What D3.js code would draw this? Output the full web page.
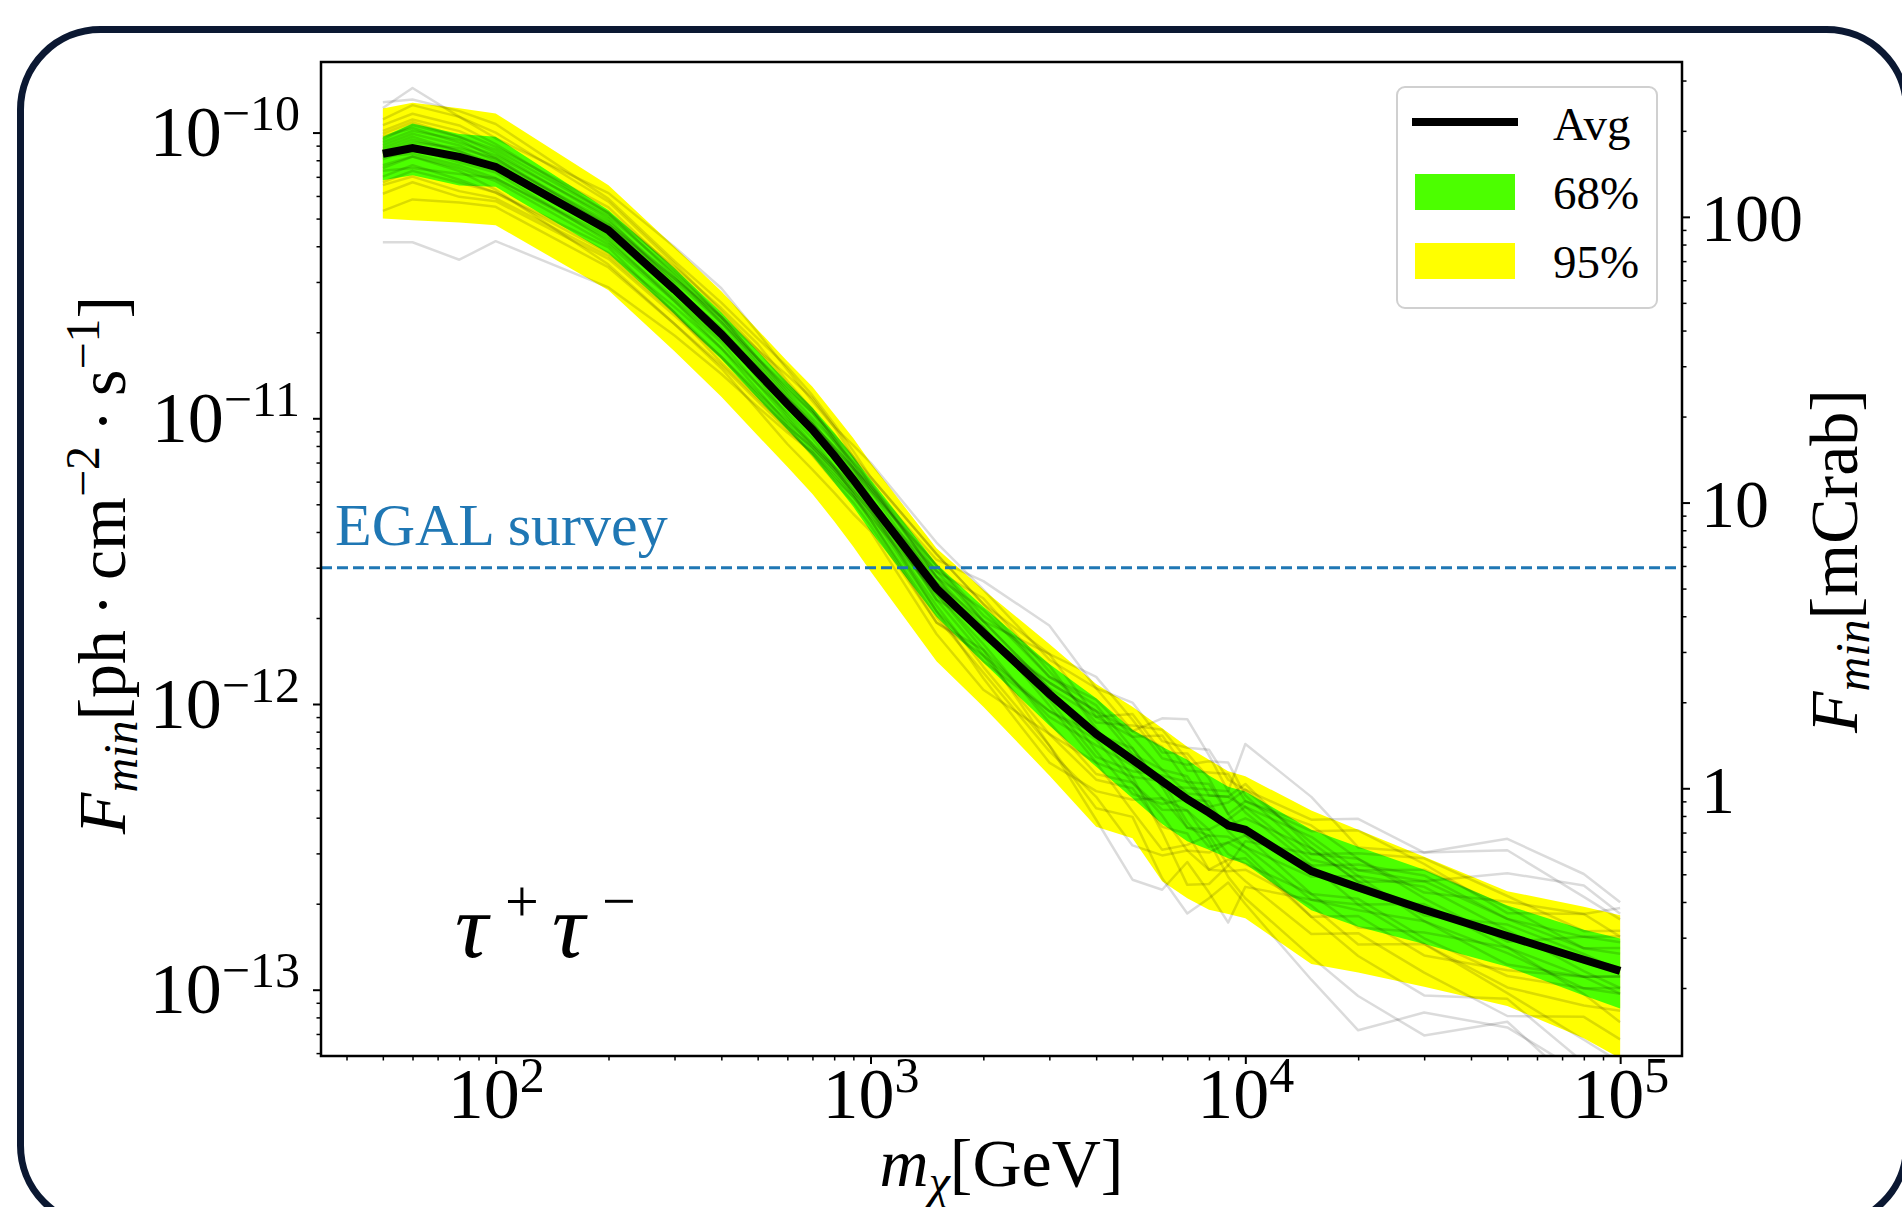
<!DOCTYPE html>
<html>
<head>
<meta charset="utf-8">
<script src="https://cdn.jsdelivr.net/npm/d3@7"></script>
<style>
  body { margin: 0; background: #fff; }
  svg text { font-family: "Liberation Serif", "Times New Roman", serif; fill: #000; }
</style>
</head>
<body>
<div id="app"></div>
<script>
// dark matter mass grid (GeV)
const massGeV = [50, 60, 80, 100, 200, 300, 400, 500, 600, 700, 800, 900, 1000, 1500, 2000,
  3000, 4000, 5000, 6000, 7000, 8000, 9000, 10000, 15000, 20000, 30000, 50000, 80000, 100000];

// log10 of F_min [ph cm^-2 s^-1]
const avgLogF = [-10.074, -10.054, -10.085, -10.120, -10.342, -10.550, -10.705, -10.840, -10.950,
  -11.040, -11.130, -11.215, -11.295, -11.595, -11.750, -11.965, -12.105, -12.195, -12.270,
  -12.333, -12.380, -12.425, -12.440, -12.585, -12.642, -12.720, -12.812, -12.895, -12.934];
const hi95LogF = [-9.916, -9.896, -9.915, -9.933, -10.184, -10.400, -10.555, -10.690, -10.800,
  -10.890, -10.985, -11.070, -11.155, -11.455, -11.600, -11.790, -11.930, -12.010, -12.085,
  -12.150, -12.195, -12.235, -12.253, -12.373, -12.440, -12.535, -12.655, -12.710, -12.739];
const hi68LogF = [-10.015, -9.968, -10.005, -10.015, -10.272, -10.475, -10.630, -10.765, -10.875,
  -10.962, -11.050, -11.135, -11.213, -11.510, -11.660, -11.860, -11.980, -12.090, -12.150,
  -12.195, -12.250, -12.290, -12.306, -12.440, -12.500, -12.580, -12.705, -12.790, -12.821];
const lo68LogF = [-10.167, -10.149, -10.185, -10.190, -10.423, -10.635, -10.793, -10.930, -11.040,
  -11.132, -11.225, -11.310, -11.395, -11.695, -11.855, -12.075, -12.220, -12.330, -12.420,
  -12.480, -12.510, -12.540, -12.560, -12.722, -12.780, -12.840, -12.920, -13.020, -13.066];
const lo95LogF = [-10.301, -10.307, -10.315, -10.324, -10.552, -10.765, -10.925, -11.060, -11.170,
  -11.265, -11.360, -11.450, -11.535, -11.850, -12.010, -12.250, -12.430, -12.470, -12.620,
  -12.680, -12.720, -12.735, -12.750, -12.910, -12.940, -12.990, -13.057, -13.170, -13.240];

// single realisations, offsets from the average in 0.01 dex
const realOffsets = [
  [-31, -33, -36, -26, -20, -16, -14, -12, -10, -8, -8, -6, -6, -10, -14, -20, -22, -30, -26, -18, -20, -12, -10, -16, -24, -30, -22, -36, -40],
  [16, 21, 14, 10, 13, 15, 16, 14, 12, 10, 10, 12, 14, 16, 15, 12, 16, 20, 14, 18, 22, 16, 14, 18, 24, 20, 30, 22, 18],
  [5, 8, 7, 6, 6, 5, 4, 3, 2, 1, 2, 3, 4, 8, 6, 10, 2, -6, -18, -30, -25, -14, -4, 6, 10, 4, -2, 8, 12],
  [-8, -6, -8, -9, -6, -8, -10, -9, -8, -6, -5, -4, -3, -6, -12, -18, -30, -42, -38, -22, -28, -34, -20, -10, -6, -12, -20, -28, -32],
  [10, 12, 11, 8, 6, 8, 9, 10, 8, 7, 6, 5, 4, 2, 0, 4, 8, 10, 12, 6, 2, 8, 14, 10, 4, -4, -10, -6, -2],
  [-2, 0, -2, -2, -4, -3, -2, -1, 0, 2, 3, 4, 6, 4, 2, -2, -8, -4, 2, 6, 10, 4, -2, -8, -14, -8, -4, -12, -18],
  [2, 4, 2, 0, 2, 3, 4, 5, 6, 6, 5, 4, 2, -4, -8, -6, 0, 4, -2, -10, -6, 2, 8, 12, 6, 14, 10, 4, 6],
  [-14, -12, -14, -12, -10, -9, -8, -7, -6, -5, -4, -3, -2, -8, -16, -24, -20, -14, -6, -4, -10, -18, -24, -30, -38, -44, -30, -46, -50],
  [7, 9, 7, 5, 4, 2, 0, -2, -4, -5, -4, -2, 0, 6, 12, 8, 4, 12, 18, 14, 6, 10, 16, 8, 2, 10, 22, 26, 20],
  [-5, -3, -5, -8, -12, -12, -11, -10, -9, -8, -7, -6, -5, -2, -4, -10, -14, -8, -12, -18, -14, -6, -8, -16, -10, -16, -12, -6, -8],
  [0, 2, 3, 3, 1, 0, -1, 0, 1, 2, 1, 0, -1, 2, 4, 2, -6, -12, -8, 0, 4, -2, -6, -2, 4, 8, 2, -4, -6],
  [12, 15, 14, 12, 10, 9, 8, 8, 7, 7, 6, 6, 5, 8, 4, 14, 20, 14, 8, 12, 18, 22, 12, 6, 12, 18, 14, 10, 14],
  [4, 6, 6, 3, 2, 4, 6, 8, 10, 11, 10, 8, 6, 10, 18, 24, 16, 10, 22, 28, 20, 12, 30, 26, 14, 20, 34, 30, 24],
  [-10, -8, -9, -9, -8, -6, -5, -4, -3, -3, -4, -5, -6, -12, -6, -18, -26, -20, -34, -40, -30, -20, -26, -38, -50, -36, -32, -40, -44],
  [-20, -18, -16, -14, -13, -12, -12, -13, -14, -14, -13, -12, -10, -16, -20, -14, -10, -18, -24, -16, -8, -14, -18, -22, -16, -22, -28, -20, -24],
  [18, 17, 16, 15, 11, 10, 11, 12, 13, 12, 11, 10, 9, 12, 10, 6, 12, 8, 16, 10, 14, 18, 10, 14, 20, 16, 8, 16, 22],
  [3, 5, 4, 2, 3, 4, 5, 4, 3, 2, 3, 4, 5, 6, 4, 2, 6, 8, 4, 2, 6, 10, 8, 4, 6, 10, 6, 8, 10],
  [-4, -3, -4, -5, -5, -4, -3, -4, -5, -6, -5, -4, -3, -2, -6, -8, -4, -2, -6, -10, -8, -4, -6, -10, -8, -4, -6, -10, -8],
  [6, 7, 5, 4, 5, 6, 6, 5, 4, 4, 5, 6, 7, 4, 8, 6, 10, 4, -2, 4, 8, 12, 6, 2, 8, 12, 6, 4, 8],
  [-6, -7, -6, -4, -3, -4, -5, -6, -7, -7, -6, -5, -4, -8, -10, -6, -2, -8, -10, -4, -6, -10, -12, -8, -4, -10, -14, -10, -6],
  [1, 3, 2, 1, 0, 1, 2, 2, 1, 0, -1, -1, 0, 4, -2, 4, 8, 2, 4, 8, 2, 0, 4, 8, 2, -2, 4, 2, 0],
  [-1, -2, -3, -4, -2, -1, 0, 1, 2, 3, 2, 1, 0, -4, 2, -4, -10, -6, 0, -8, -12, -6, -2, 2, -6, 2, -4, -6, -2],
  [8, 10, 9, 7, 8, 7, 6, 5, 5, 6, 7, 8, 9, 12, 10, 14, 6, 16, 10, 16, 12, 4, 10, 16, 10, 6, 12, 16, 12],
  [-11, -10, -12, -11, -9, -8, -8, -8, -8, -9, -9, -8, -8, -12, -8, -14, -16, -10, -16, -12, -20, -16, -14, -12, -20, -12, -18, -16, -14],
];

const egalFlux = 3.0e-12; // survey sensitivity
const mCrabFlux = 5.07e-13; // 1 mCrab in ph cm^-2 s^-1

const xTickExp = [2, 3, 4, 5];
const yTickExp = [-13, -12, -11, -10];
const crabTicks = [1, 10, 100];
const legendLabels = ['Avg', '68%', '95%'];

const W = 1902;
const H = 1207;
const margin = { top: 62, left: 321, right: 220, bottom: 151 };
const width = W - margin.left - margin.right; // 1361
const height = H - margin.top - margin.bottom; // 994
const tickFont = 72;
const supFont = 50;
const supRise = 26;
const green = '#4cff00';
const yellow = '#ffff00';
const blue = '#1f77b4';

const svg = d3.select('#app')
  .append('svg')
  .attr('width', W)
  .attr('height', H);

// rounded frame around the figure
svg.append('rect')
  .attr('x', 20.5)
  .attr('y', 29.5)
  .attr('width', 1886)
  .attr('height', 1196)
  .attr('rx', 80)
  .attr('fill', 'none')
  .attr('stroke', '#0b1832')
  .attr('stroke-width', 7);

const g = svg.append('g')
  .attr('transform', `translate(${margin.left},${margin.top})`);

g.append('defs')
  .append('clipPath')
  .attr('id', 'clip')
  .append('rect')
  .attr('width', width)
  .attr('height', height);

const x = d3.scaleLog()
  .domain([10 ** 1.534, 10 ** 5.165])
  .range([0, width]);

const y = d3.scaleLog()
  .domain([10 ** -13.232, 10 ** -9.753])
  .range([height, 0]);

const yCrab = d3.scaleLog()
  .domain(y.domain().map(v => v / mCrabFlux))
  .range([height, 0]);

const rows = massGeV.map((m, i) => ({
  m,
  avg: 10 ** avgLogF[i],
  hi95: 10 ** hi95LogF[i],
  hi68: 10 ** hi68LogF[i],
  lo68: 10 ** lo68LogF[i],
  lo95: 10 ** lo95LogF[i],
}));

const plot = g.append('g').attr('clip-path', 'url(#clip)');

const band = (lo, hi) => d3.area()
  .x(d => x(d.m))
  .y0(d => y(d[lo]))
  .y1(d => y(d[hi]));

plot.append('path')
  .datum(rows)
  .attr('fill', yellow)
  .attr('d', band('lo95', 'hi95'));

plot.append('path')
  .datum(rows)
  .attr('fill', green)
  .attr('d', band('lo68', 'hi68'));

const line = d3.line()
  .x(d => x(d[0]))
  .y(d => y(d[1]));

// individual realisations, faint black
plot.selectAll('.real')
  .data(realOffsets)
  .enter()
  .append('path')
  .attr('class', 'real')
  .attr('fill', 'none')
  .attr('stroke', '#000')
  .attr('stroke-opacity', 0.14)
  .attr('stroke-width', 2.5)
  .attr('stroke-linejoin', 'round')
  .attr('d', off => line(massGeV.map((m, i) => [m, 10 ** (avgLogF[i] + off[i] / 100)])));

// EGAL survey sensitivity
plot.append('line')
  .attr('x1', 0)
  .attr('x2', width)
  .attr('y1', y(egalFlux))
  .attr('y2', y(egalFlux))
  .attr('stroke', blue)
  .attr('stroke-width', 3)
  .attr('stroke-dasharray', '11,5');

plot.append('path')
  .datum(rows)
  .attr('fill', 'none')
  .attr('stroke', '#000')
  .attr('stroke-width', 8)
  .attr('d', d3.line().x(d => x(d.m)).y(d => y(d.avg)));

g.append('text')
  .attr('x', 14)
  .attr('y', y(egalFlux) - 23)
  .attr('font-size', 60)
  .style('fill', blue)
  .text('EGAL survey');

// tau+ tau- annotation
const tau = g.append('text')
  .attr('y', 895)
  .attr('font-size', 92);
tau.append('tspan').attr('x', 134).attr('font-style', 'italic').text('\u03c4');
tau.append('tspan').attr('x', 184).attr('font-size', 60).attr('dy', -36).text('+');
tau.append('tspan').attr('x', 231).attr('font-style', 'italic').attr('dy', 36).text('\u03c4');
tau.append('tspan').attr('x', 281).attr('font-size', 60).attr('dy', -36).text('\u2212');

// axes
function minorTicks(lo, hi) {
  const out = [];
  for (let e = lo; e <= hi; e += 1) {
    for (let k = 2; k <= 9; k += 1) out.push(+(`${k}e${e}`));
  }
  return out;
}

function powerText(text, exp) {
  text.append('tspan').text('10');
  text.append('tspan')
    .attr('dy', -supRise)
    .attr('font-size', supFont)
    .text(exp < 0 ? `\u2212${-exp}` : `${exp}`);
}

function drawAxis(axisFn, scale, majors, minors, transform) {
  const ga = g.append('g').attr('transform', transform);
  ga.append('g')
    .call(axisFn(scale).tickValues(minors.filter(v => v >= scale.domain()[0] && v <= scale.domain()[1]))
      .tickSize(4.5).tickFormat(''))
    .call(s => s.select('.domain').remove())
    .call(s => s.selectAll('line').attr('stroke-width', 1.5));
  const major = ga.append('g')
    .call(axisFn(scale).tickValues(majors).tickSize(8).tickFormat(''))
    .call(s => s.select('.domain').remove())
    .call(s => s.selectAll('line').attr('stroke-width', 2));
  major.selectAll('.tick text').remove();
  return major;
}

const xAxis = drawAxis(d3.axisBottom, x, xTickExp.map(e => 10 ** e), minorTicks(1, 5), `translate(0,${height})`);
xAxis.selectAll('.tick').each(function (d, i) {
  const t = d3.select(this).append('text')
    .attr('y', 62)
    .attr('text-anchor', 'middle')
    .attr('font-size', tickFont);
  powerText(t, xTickExp[i]);
});

const yAxis = drawAxis(d3.axisLeft, y, yTickExp.map(e => 10 ** e), minorTicks(-14, -10), 'translate(0,0)');
yAxis.selectAll('.tick').each(function (d, i) {
  const t = d3.select(this).append('text')
    .attr('x', -21)
    .attr('y', 23)
    .attr('text-anchor', 'end')
    .attr('font-size', tickFont);
  powerText(t, yTickExp[i]);
});

const rAxis = drawAxis(d3.axisRight, yCrab, crabTicks, minorTicks(-1, 2), `translate(${width},0)`);
rAxis.selectAll('.tick').append('text')
  .attr('x', 19)
  .attr('y', 24)
  .attr('text-anchor', 'start')
  .attr('font-size', 68)
  .text(d => d);

g.append('rect')
  .attr('width', width)
  .attr('height', height)
  .attr('fill', 'none')
  .attr('stroke', '#000')
  .attr('stroke-width', 2.5);

// axis titles
const xLabel = g.append('text')
  .attr('x', width / 2)
  .attr('y', height + 130)
  .attr('text-anchor', 'middle')
  .attr('font-size', 68);
xLabel.append('tspan').attr('font-style', 'italic').text('m');
xLabel.append('tspan').attr('font-style', 'italic').attr('font-size', 48).attr('dy', 12).text('\u03c7');
xLabel.append('tspan').attr('dy', -12).text('[GeV]');

const yLabel = g.append('text')
  .attr('transform', `translate(${125 - margin.left},${height / 2 + 6}) rotate(-90)`)
  .attr('text-anchor', 'middle')
  .attr('font-size', 68);
yLabel.append('tspan').attr('font-style', 'italic').text('F');
yLabel.append('tspan').attr('font-style', 'italic').attr('font-size', 48).attr('dy', 12).text('min');
yLabel.append('tspan').attr('dy', -12).text('[ph\u2009\u00b7\u2009cm');
yLabel.append('tspan').attr('font-size', 48).attr('dy', -26).text('\u22122');
yLabel.append('tspan').attr('dy', 26).text('\u2009\u00b7\u2009s');
yLabel.append('tspan').attr('font-size', 48).attr('dy', -26).text('\u22121');
yLabel.append('tspan').attr('dy', 26).text(']');

const rLabel = g.append('text')
  .attr('transform', `translate(${1857 - margin.left},${height / 2 + 2}) rotate(-90)`)
  .attr('text-anchor', 'middle')
  .attr('font-size', 68);
rLabel.append('tspan').attr('font-style', 'italic').text('F');
rLabel.append('tspan').attr('font-style', 'italic').attr('font-size', 48).attr('dy', 12).text('min');
rLabel.append('tspan').attr('dy', -12).text('[mCrab]');

// legend
const legend = g.append('g')
  .attr('transform', `translate(${1397 - margin.left},${87 - margin.top})`);

legend.append('rect')
  .attr('width', 260)
  .attr('height', 221)
  .attr('rx', 8)
  .attr('fill', '#fff')
  .attr('stroke', '#d0d0d0')
  .attr('stroke-width', 2);

legend.append('line')
  .attr('x1', 15)
  .attr('x2', 121)
  .attr('y1', 35)
  .attr('y2', 35)
  .attr('stroke', '#000')
  .attr('stroke-width', 8);

legend.selectAll('.swatch')
  .data([green, yellow])
  .enter()
  .append('rect')
  .attr('class', 'swatch')
  .attr('x', 18)
  .attr('y', (d, i) => 87 + i * 69)
  .attr('width', 100)
  .attr('height', 36)
  .attr('fill', d => d);

legend.selectAll('.ltext')
  .data(legendLabels)
  .enter()
  .append('text')
  .attr('class', 'ltext')
  .attr('x', 156)
  .attr('y', (d, i) => 53 + i * 69)
  .attr('font-size', 47)
  .text(d => d);
</script>
</body>
</html>
